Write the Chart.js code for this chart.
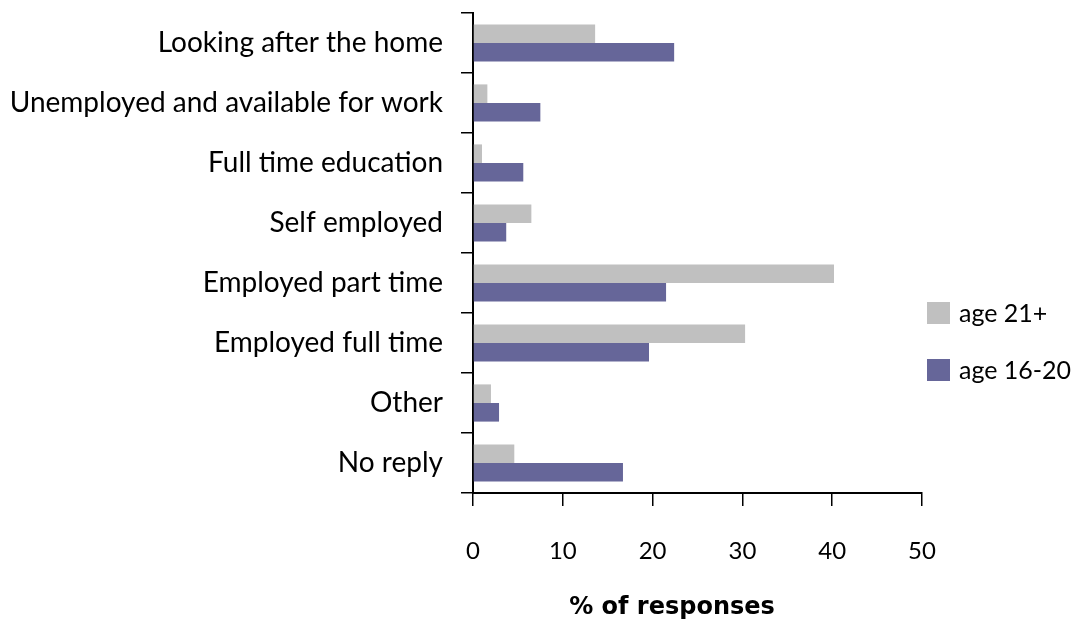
<!DOCTYPE html>
<html>
<head>
<meta charset="utf-8">
<script src="https://cdn.jsdelivr.net/npm/chart.js@4"></script>
<style>
  html, body { margin: 0; padding: 0; background: #fff; }
  #wrap { width: 1085px; height: 624px; }
</style>
</head>
<body>
<div id="wrap"><canvas id="grafico" width="1085" height="624"></canvas></div>
<script>
const categorias = ['Looking after the home', 'Unemployed and available for work', 'Full time education',
  'Self employed', 'Employed part time', 'Employed full time', 'Other', 'No reply'];
const edad21 = [13.6, 1.6, 1.0, 6.5, 40.2, 30.3, 2.0, 4.6];
const edad16 = [22.4, 7.5, 5.6, 3.7, 21.5, 19.6, 2.9, 16.7];
const ticksX = [0, 10, 20, 30, 40, 50];
const tituloX = '% of responses';

const fuente = 'Lato, "DejaVu Sans", sans-serif';

// leyenda y titulo del eje dibujados a mano
const extras = {
  id: 'extras',
  afterDraw(chart) {
    const ctx = chart.ctx;
    ctx.save();
    ctx.font = '25px ' + fuente;
    ctx.textBaseline = 'middle';
    chart.data.datasets.forEach((ds, i) => {
      const y = 313 + i * 57;
      ctx.fillStyle = ds.backgroundColor;
      ctx.fillRect(927, y - 11, 23, 22);
      ctx.fillStyle = '#000';
      ctx.fillText(ds.label, 959, y + 1);
    });
    ctx.font = 'bold 24px "DejaVu Sans", sans-serif';
    ctx.textAlign = 'center';
    ctx.fillText(tituloX, 672, 608);
    ctx.restore();
  }
};

new Chart(document.getElementById('grafico').getContext('2d'), {
  type: 'bar',
  data: {
    labels: categorias,
    datasets: [
      { label: 'age 21+', data: edad21, backgroundColor: '#c0c0c0' },
      { label: 'age 16-20', data: edad16, backgroundColor: '#666699' }
    ]
  },
  options: {
    indexAxis: 'y',
    responsive: false,
    animation: false,
    layout: { padding: { left: 0, right: 163, top: 13, bottom: 0 } },
    datasets: { bar: { categoryPercentage: 0.62, barPercentage: 1.0 } },
    plugins: { legend: { display: false }, tooltip: { enabled: false } },
    scales: {
      x: {
        min: 0, max: 50,
        afterBuildTicks: s => { s.ticks = ticksX.map(v => ({ value: v })); },
        afterFit: s => { s.height = 131; s.paddingLeft = 0; s.paddingRight = 0; },
        grid: { drawOnChartArea: false, drawTicks: true, tickLength: 13, color: '#000', lineWidth: 1.5 },
        border: { color: '#000', width: 2 },
        ticks: { color: '#000', font: { family: fuente, size: 24 }, padding: 31, maxRotation: 0 }
      },
      y: {
        afterFit: s => { s.width = 473; s.paddingTop = 0; s.paddingBottom = 0; },
        grid: { drawOnChartArea: false, drawTicks: true, tickLength: 12, color: '#000', lineWidth: 1.5, offset: true },
        border: { color: '#000', width: 2 },
        ticks: { color: '#000', font: { family: fuente, size: 28 }, padding: 18 }
      }
    }
  },
  plugins: [extras]
});
</script>
</body>
</html>
